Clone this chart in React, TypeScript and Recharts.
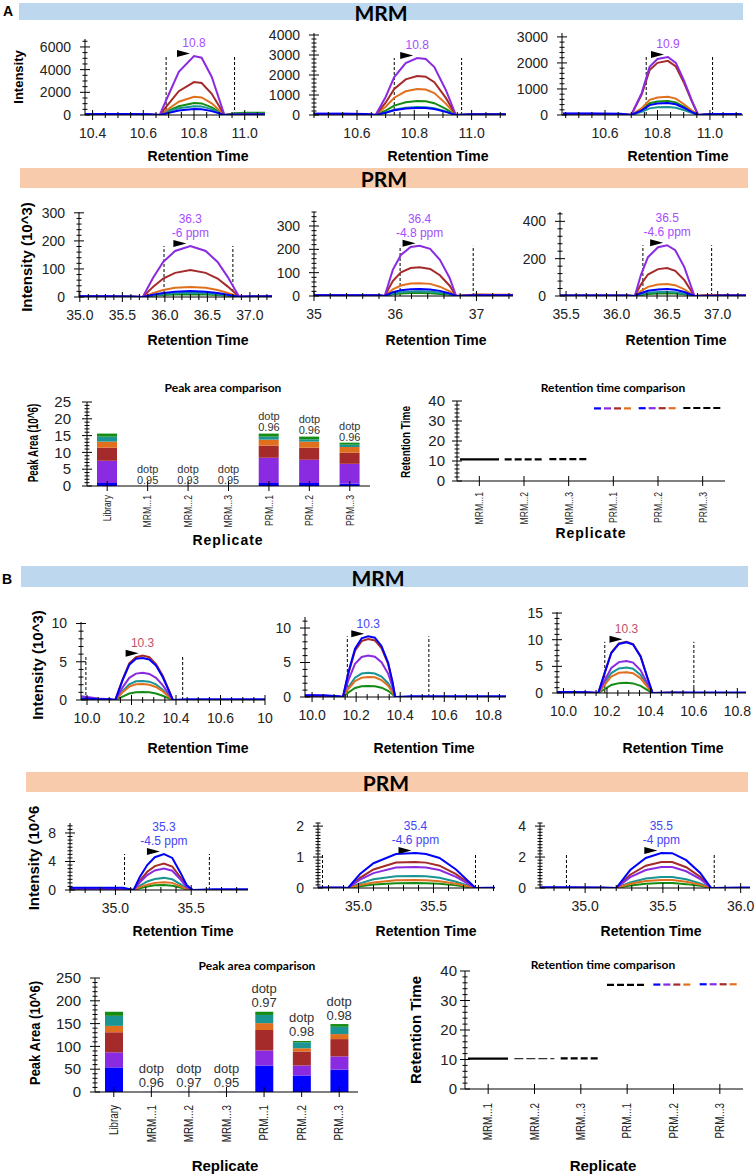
import React from "react";
import {
  LineChart,
  Line,
  XAxis,
  YAxis,
  ReferenceLine,
  ReferenceDot,
  ComposedChart,
  BarChart,
  Bar,
  Scatter,
} from "recharts";

const SANS = '"Liberation Sans", Arial, sans-serif';
const HEAD = 'Lato, "Open Sans", sans-serif';
const INK = "#222";

// transition colours: blue, purple, red, orange, teal, green (bottom of stack first)
const TRANS = ["#0000ff", "#8a2be2", "#a52a2a", "#e0701e", "#1b9494", "#148c14"];
const LBL_PURPLE = "#a64dff";
const LBL_BLUE = "#4545f5";
const LBL_RED = "#c0506a";

// ---------- panel A, MRM chromatograms (intensity) ----------
const A_MRM1_RT = [10.37, 10.45, 10.55, 10.62, 10.665, 10.69, 10.74, 10.8, 10.83, 10.87, 10.92, 10.96, 11.0, 11.08];
const A_MRM1_I = [
  [80, 80, 80, 70, 0, 140, 390, 530, 515, 340, 0, 40, 60, 60],
  [60, 60, 50, 40, 0, 1300, 3800, 5200, 5050, 3350, 0, 0, 0, 0],
  [30, 30, 30, 20, 0, 720, 2100, 2900, 2820, 1870, 0, 20, 30, 30],
  [30, 30, 30, 20, 0, 400, 1170, 1600, 1550, 1030, 0, 50, 80, 80],
  [30, 30, 30, 20, 0, 250, 600, 780, 760, 500, 0, 100, 120, 120],
  [20, 20, 20, 20, 0, 290, 770, 1050, 1020, 680, 0, 150, 200, 200],
];
const A_MRM2_RT = [10.45, 10.55, 10.63, 10.665, 10.7, 10.73, 10.77, 10.81, 10.84, 10.87, 10.91, 10.945, 11.0, 11.12];
const A_MRM2_I = [
  [60, 60, 50, 0, 110, 235, 320, 350, 345, 295, 155, 0, 40, 40],
  [60, 60, 50, 0, 900, 1900, 2600, 2850, 2800, 2400, 1250, 0, 0, 0],
  [30, 30, 30, 0, 615, 1300, 1780, 1950, 1915, 1640, 855, 0, 20, 20],
  [30, 30, 30, 0, 410, 865, 1185, 1300, 1275, 1095, 570, 0, 30, 30],
  [20, 20, 20, 0, 125, 265, 365, 400, 390, 335, 175, 0, 20, 20],
  [20, 20, 20, 0, 220, 470, 640, 700, 690, 590, 310, 0, 30, 30],
];
const A_MRM3_RT = [10.44, 10.55, 10.66, 10.7, 10.74, 10.77, 10.8, 10.84, 10.87, 10.9, 10.93, 10.955, 11.0, 11.12];
const A_MRM3_I = [
  [60, 60, 50, 0, 175, 380, 445, 460, 410, 280, 120, 0, 40, 40],
  [50, 50, 40, 0, 850, 1850, 2150, 2230, 2000, 1350, 580, 0, 0, 0],
  [30, 30, 30, 0, 790, 1725, 2005, 2080, 1865, 1260, 540, 0, 30, 30],
  [30, 30, 30, 0, 265, 580, 675, 700, 630, 425, 180, 0, 30, 30],
  [20, 20, 20, 0, 120, 255, 300, 310, 280, 190, 80, 0, 20, 20],
  [20, 20, 20, 0, 205, 450, 520, 540, 485, 325, 140, 0, 20, 20],
];

// ---------- panel A, PRM chromatograms (intensity x10^3) ----------
const A_PRM1_RT = [34.99, 35.3, 35.6, 35.74, 35.86, 35.98, 36.12, 36.3, 36.48, 36.62, 36.74, 36.87, 37.0, 37.26];
const A_PRM1_I = [
  [3, 3, 2, 0, 8, 14, 19, 21, 19, 14, 8, 1, 2, 3],
  [3, 2, 1, 0, 68, 125, 164, 182, 164, 125, 71, 3, 2, 3],
  [2, 1, 1, 0, 36, 66, 86, 96, 86, 66, 37, 2, 1, 2],
  [1, 1, 1, 0, 14, 25, 33, 36, 33, 25, 14, 1, 1, 1],
  [1, 1, 1, 0, 6, 10, 13, 15, 13, 10, 6, 1, 1, 1],
  [1, 1, 1, 0, 4, 7, 9, 10, 9, 7, 4, 1, 1, 1],
];
const A_PRM2_RT = [35, 35.4, 35.8, 35.87, 35.97, 36.07, 36.19, 36.3, 36.43, 36.55, 36.67, 36.75, 37.0, 37.45];
const A_PRM2_I = [
  [3, 3, 3, 0, 16, 25, 29, 30, 28, 22, 11, 0, 3, 3],
  [3, 2, 2, 0, 112, 176, 210, 215, 202, 155, 77, 0, 2, 3],
  [2, 1, 1, 0, 64, 101, 120, 123, 116, 89, 44, 0, 5, 3],
  [1, 1, 1, 0, 29, 45, 54, 55, 52, 40, 20, 0, 6, 5],
  [1, 1, 1, 0, 10, 16, 19, 20, 19, 14, 7, 0, 1, 1],
  [1, 1, 1, 0, 7, 11, 13, 13, 12, 9, 5, 0, 3, 2],
];
const A_PRM3_RT = [35.44, 35.8, 36.1, 36.18, 36.24, 36.31, 36.41, 36.5, 36.58, 36.67, 36.77, 36.9, 37.1, 37.28];
const A_PRM3_I = [
  [3, 3, 3, 0, 15, 28, 35, 37, 33, 21, 0, 2, 3, 3],
  [3, 3, 2, 0, 112, 208, 261, 272, 245, 155, 0, 0, 2, 3],
  [2, 2, 1, 0, 62, 115, 144, 150, 135, 85, 0, 3, 3, 2],
  [1, 1, 1, 0, 26, 49, 61, 64, 58, 36, 0, 5, 4, 3],
  [1, 1, 1, 0, 9, 17, 21, 22, 20, 12, 0, 1, 1, 1],
  [1, 1, 1, 0, 6, 11, 14, 15, 13, 9, 0, 2, 2, 2],
];

// ---------- panel B, MRM chromatograms (intensity x10^3) ----------
const B_MRM1_RT = [9.973, 10.0, 10.05, 10.1, 10.127, 10.16, 10.19, 10.22, 10.25, 10.28, 10.31, 10.34, 10.365, 10.386, 10.45, 10.6, 10.8];
const B_MRM1_I = [
  [0.2, 0.2, 0.1, 0.1, 0, 2.6, 4.6, 5.4, 5.5, 5.3, 4.5, 3.0, 1.4, 0, 0.1, 0.1, 0.1],
  [0.5, 0.4, 0.2, 0.1, 0, 1.65, 2.9, 3.45, 3.55, 3.4, 2.9, 1.95, 0.9, 0, 0, 0, 0],
  [0.1, 0.1, 0.1, 0.1, 0, 2.7, 4.8, 5.6, 5.8, 5.6, 4.7, 3.2, 1.5, 0, 0, 0, 0],
  [0.1, 0.1, 0.1, 0, 0, 1.0, 1.75, 2.05, 2.1, 2.0, 1.7, 1.15, 0.5, 0, 0, 0, 0],
  [0.1, 0.1, 0.1, 0, 0, 1.15, 2.05, 2.45, 2.5, 2.4, 2.05, 1.35, 0.6, 0, 0, 0, 0],
  [0, 0, 0, 0, 0, 0.45, 0.85, 1.0, 1.05, 1.0, 0.85, 0.55, 0.25, 0, 0, 0, 0],
];
const B_MRM2_RT = [9.968, 10.0, 10.06, 10.12, 10.14, 10.165, 10.195, 10.225, 10.255, 10.285, 10.315, 10.345, 10.365, 10.377, 10.45, 10.6, 10.88];
const B_MRM2_I = [
  [0.2, 0.2, 0.2, 0.1, 0, 3.6, 7.0, 8.5, 8.8, 8.6, 7.4, 5.0, 2.2, 0, 0.1, 0.1, 0.1],
  [0.3, 0.3, 0.2, 0.1, 0, 2.45, 4.8, 5.8, 6.0, 5.85, 5.05, 3.4, 1.5, 0, 0, 0, 0],
  [0.1, 0.1, 0.1, 0, 0, 3.4, 6.7, 8.1, 8.4, 8.2, 7.1, 4.8, 2.1, 0, 0, 0, 0],
  [0, 0, 0, 0, 0, 1.2, 2.3, 2.8, 2.9, 2.85, 2.45, 1.65, 0.7, 0, 0, 0, 0],
  [0.1, 0.1, 0.1, 0, 0, 1.45, 2.8, 3.4, 3.5, 3.4, 2.95, 2.0, 0.9, 0, 0, 0, 0],
  [0, 0, 0, 0, 0, 0.65, 1.3, 1.55, 1.6, 1.55, 1.35, 0.9, 0.4, 0, 0, 0, 0],
];
const B_MRM3_RT = [9.97, 10.05, 10.12, 10.16, 10.19, 10.22, 10.255, 10.29, 10.32, 10.355, 10.385, 10.41, 10.5, 10.6, 10.7, 10.84];
const B_MRM3_I = [
  [0.2, 0.2, 0.1, 0, 3.8, 7.5, 9.2, 9.5, 9.1, 6.8, 3.0, 0, 0.1, 0.1, 0.1, 0.1],
  [0.2, 0.2, 0.1, 0, 2.4, 4.7, 5.8, 6.0, 5.7, 4.25, 1.9, 0, 0, 0, 0, 0],
  [0.1, 0.1, 0.1, 0, 3.9, 7.6, 9.3, 9.6, 9.2, 6.9, 3.0, 0, 0.1, 0, 0, 0],
  [0, 0, 0, 0, 1.55, 3.1, 3.8, 3.9, 3.7, 2.75, 1.2, 0, 0, 0, 0, 0],
  [0, 0, 0, 0, 1.9, 3.75, 4.6, 4.8, 4.55, 3.4, 1.5, 0, 0, 0, 0, 0],
  [0, 0, 0, 0, 0.75, 1.5, 1.85, 1.9, 1.8, 1.35, 0.6, 0, 0, 0, 0, 0],
];

// ---------- panel B, PRM chromatograms (intensity x10^6) ----------
const B_PRM1_RT = [34.7, 34.9, 35.05, 35.12, 35.16, 35.21, 35.26, 35.32, 35.375, 35.43, 35.47, 35.51, 35.65, 35.875];
const B_PRM1_I = [
  [0.3, 0.3, 0.3, 0, 1.8, 3.5, 4.6, 5.05, 4.5, 2.4, 0.7, 0, 0.1, 0.1],
  [0.1, 0.1, 0.1, 0, 1.05, 2.1, 2.75, 3.0, 2.7, 1.45, 0.4, 0, 0, 0],
  [0.2, 0.2, 0.1, 0, 1.3, 2.55, 3.35, 3.7, 3.3, 1.75, 0.5, 0, 0, 0],
  [0, 0, 0, 0, 0.4, 0.75, 1.0, 1.1, 1.0, 0.5, 0.15, 0, 0, 0],
  [0, 0, 0, 0, 0.6, 1.2, 1.55, 1.7, 1.5, 0.8, 0.25, 0, 0, 0],
  [0, 0, 0, 0, 0.25, 0.5, 0.65, 0.7, 0.6, 0.35, 0.1, 0, 0, 0],
];
const B_PRM2_RT = [34.73, 34.8, 34.88, 34.93, 35.01, 35.1, 35.25, 35.38, 35.45, 35.54, 35.65, 35.78, 35.85, 35.91];
const B_PRM2_I = [
  [0.02, 0.02, 0.02, 0, 0.45, 0.8, 1.1, 1.13, 1.1, 0.97, 0.6, 0, 0.01, 0.01],
  [0, 0, 0, 0, 0.27, 0.48, 0.66, 0.68, 0.66, 0.58, 0.36, 0, 0, 0],
  [0.01, 0.01, 0.01, 0, 0.33, 0.6, 0.82, 0.84, 0.82, 0.72, 0.45, 0, 0, 0],
  [0, 0, 0, 0, 0.1, 0.18, 0.25, 0.26, 0.25, 0.22, 0.14, 0, 0, 0],
  [0, 0, 0, 0, 0.15, 0.28, 0.38, 0.39, 0.38, 0.33, 0.2, 0, 0, 0],
  [0, 0, 0, 0, 0.06, 0.11, 0.155, 0.16, 0.155, 0.14, 0.085, 0, 0, 0],
];
const B_PRM3_RT = [34.71, 34.9, 35.1, 35.2, 35.29, 35.39, 35.49, 35.56, 35.65, 35.74, 35.81, 35.9, 36.0, 36.06];
const B_PRM3_I = [
  [0.05, 0.05, 0.04, 0, 1.16, 1.94, 2.26, 2.25, 1.8, 0.97, 0, 0.02, 0.03, 0.03],
  [0, 0, 0, 0, 0.7, 1.16, 1.35, 1.35, 1.08, 0.58, 0, 0, 0, 0],
  [0.02, 0.02, 0.02, 0, 0.86, 1.44, 1.68, 1.68, 1.34, 0.72, 0, 0, 0, 0],
  [0, 0, 0, 0, 0.27, 0.45, 0.52, 0.52, 0.41, 0.22, 0, 0, 0, 0],
  [0, 0, 0, 0, 0.36, 0.61, 0.71, 0.71, 0.57, 0.3, 0, 0, 0, 0],
  [0, 0, 0, 0, 0.16, 0.27, 0.32, 0.32, 0.25, 0.14, 0, 0, 0, 0],
];

// integration boundaries (retention time)
const A_BOUNDS = [[10.69, 10.96], [10.73, 10.965], [10.757, 11.01], [35.99, 36.8], [36.06, 36.96], [36.26, 36.94]];
const B_BOUNDS = [[9.995, 10.43], [10.16, 10.53], [10.19, 10.6], [35.06, 35.62], [34.76, 35.78], [34.88, 35.83]];

// peak annotations
const A_PEAK_TEXT = [["10.8"], ["10.8"], ["10.9"], ["36.3", "-6 ppm"], ["36.4", "-4.8 ppm"], ["36.5", "-4.6 ppm"]];
const B_PEAK_TEXT = [["10.3"], ["10.3"], ["10.3"], ["35.3", "-4.5 ppm"], ["35.4", "-4.6 ppm"], ["35.5", "-4 ppm"]];

// ---------- peak area / retention time comparisons ----------
const REPLICATES = ["Library", "MRM...1", "MRM...2", "MRM...3", "PRM...1", "PRM...2", "PRM...3"];
const RT_REPLICATES = ["MRM...1", "MRM...2", "MRM...3", "PRM...1", "PRM...2", "PRM...3"];

const A_AREA = [
  [0.9, 0.02, 0.02, 0.02, 0.9, 0.9, 0.7],
  [6.6, 0, 0, 0, 7.5, 6.9, 5.9],
  [3.9, 0, 0, 0, 3.6, 3.6, 3.3],
  [1.8, 0, 0, 0, 1.8, 1.8, 1.7],
  [1.5, 0, 0, 0, 0.9, 0.7, 0.7],
  [0.9, 0, 0, 0, 0.9, 0.8, 0.6],
];
const A_DOTP = ["", "0.95", "0.93", "0.95", "0.96", "0.96", "0.96"];
const A_RT = [10.8, 10.8, 10.9, 36.3, 36.4, 36.5];
const A_RT_KIND = ["solid", "dash", "dash", "color", "color", "dash"];

const B_AREA = [
  [54, 0.3, 0.3, 0.3, 58, 36, 49],
  [33, 0, 0, 0, 33, 22, 29],
  [44, 0, 0, 0, 45, 31, 38],
  [14, 0, 0, 0, 15, 7, 11],
  [22, 0, 0, 0, 18, 13, 16],
  [9, 0, 0, 0, 7, 3, 6],
];
const B_DOTP = ["", "0.96", "0.97", "0.95", "0.97", "0.98", "0.98"];
const B_RT = [10.3, 10.3, 10.4, 35.3, 35.4, 35.5];
const B_RT_KIND = ["solid", "thin", "dash", "dash", "color", "color"];

// ---------- helpers ----------
const YW = 50;
const MT = 14;
const MR = 10;
const XH = 30;
const CH = 60;

function tickRange(lo: number, hi: number, step: number, majors: number[]) {
  const out: number[] = [];
  for (let i = Math.ceil(lo / step - 1e-9); i * step <= hi + 1e-9; i++) out.push(+(i * step).toFixed(6));
  majors.forEach((m) => {
    if (!out.some((v) => Math.abs(v - m) < 1e-6)) out.push(m);
  });
  return out.sort((a, b) => a - b);
}
const majorIndex = (v: number, majors: number[]) => majors.findIndex((m) => Math.abs(m - v) < 1e-6);

function YTick(props: any) {
  const { x, y, payload, majors, gap = 14, fs = 14 } = props;
  const k = majorIndex(payload.value, majors);
  const len = k >= 0 ? 5 : 2.5;
  return (
    <g>
      <line x1={x - len} x2={x + len} y1={y} y2={y} stroke="#000" strokeWidth={1} />
      {k >= 0 && (
        <text x={x - gap} y={y} dy="0.35em" textAnchor="end" fontSize={fs} fill={INK} fontFamily={SANS}>
          {majors[k]}
        </text>
      )}
    </g>
  );
}

function XTick(props: any) {
  const { x, y, payload, majors, labels, fs = 14 } = props;
  const k = majorIndex(payload.value, majors);
  const len = k >= 0 ? 5 : 3;
  return (
    <g>
      <line x1={x} x2={x} y1={y - len} y2={y + len} stroke="#000" strokeWidth={1} />
      {k >= 0 && (
        <text x={x} y={y + 18} dy="0.35em" textAnchor="middle" fontSize={fs} fill={INK} fontFamily={SANS}>
          {labels[k]}
        </text>
      )}
    </g>
  );
}

function CatTick(props: any) {
  const { x, y, payload, drop, fs, sq } = props;
  return (
    <g>
      <line x1={x} x2={x} y1={y - 5} y2={y + 5} stroke="#000" strokeWidth={1} />
      <g transform={`translate(${x},${y + drop}) rotate(-90) scale(${sq},1)`}>
        <text x={0} y={0} dy="0.35em" textAnchor="end" fontSize={fs} fill={INK} fontFamily={SANS}>
          {payload.value}
        </text>
      </g>
    </g>
  );
}

function PeakMark({ cx, cy, lines, color }: any) {
  if (cx == null || cy == null) return null;
  const n = lines.length;
  return (
    <g>
      <polygon points={`${cx - 17},${cy - 6} ${cx - 4},${cy - 2.5} ${cx - 17},${cy + 1}`} fill="#000" />
      {lines.map((l: string, i: number) => (
        <text
          key={i}
          x={cx}
          y={cy - 13 - (n - 1 - i) * 14}
          dy="0.35em"
          textAnchor="middle"
          fontSize={12}
          fill={color}
          fontFamily={SANS}
        >
          {l}
        </text>
      ))}
    </g>
  );
}

type ChromProps = {
  box: [number, number, number, number];
  rt: number[];
  ints: number[][];
  xDomain: [number, number];
  xMajor: number[];
  xLabels: string[];
  xMinor: number;
  yDomain: [number, number];
  yMajor: number[];
  yMinor: number;
  bounds: number[];
  peakText: string[];
  peakColor: string;
};

function Chrom(p: ChromProps) {
  const [x0, y0, x1, y1] = p.box;
  const data = p.rt.map((t, i) => {
    const row: any = { t };
    p.ints.forEach((s, k) => (row["s" + k] = s[i]));
    return row;
  });
  // apex of the tallest trace
  let apex = { t: p.rt[0], v: -Infinity };
  p.ints.forEach((s) =>
    s.forEach((v, i) => {
      if (v > apex.v) apex = { t: p.rt[i], v };
    })
  );
  const xTicks = tickRange(p.xDomain[0], p.xDomain[1], p.xMinor, p.xMajor);
  const yTicks = tickRange(p.yDomain[0], p.yDomain[1], p.yMinor, p.yMajor);
  return (
    <div style={{ position: "absolute", left: x0 - YW, top: y0 - MT }}>
      <LineChart
        width={x1 - x0 + YW + MR}
        height={y1 - y0 + MT + XH}
        data={data}
        margin={{ top: MT, right: MR, left: 0, bottom: 0 }}
      >
        <XAxis
          dataKey="t"
          type="number"
          domain={p.xDomain}
          ticks={xTicks}
          interval={0}
          allowDataOverflow
          tickSize={0}
          tickMargin={0}
          tickLine={false}
          axisLine={{ stroke: "#000" }}
          height={XH}
          tick={(tp: any) => <XTick {...tp} majors={p.xMajor} labels={p.xLabels} />}
        />
        <YAxis
          type="number"
          domain={p.yDomain}
          ticks={yTicks}
          interval={0}
          allowDataOverflow
          width={YW}
          tickSize={0}
          tickMargin={0}
          tickLine={false}
          axisLine={{ stroke: "#000" }}
          tick={(tp: any) => <YTick {...tp} majors={p.yMajor} />}
        />
        {p.bounds.map((b, i) => (
          <ReferenceLine
            key={i}
            segment={[
              { x: b, y: 0 },
              { x: b, y: apex.v },
            ]}
            stroke="#000"
            strokeDasharray="3 2"
            ifOverflow="visible"
          />
        ))}
        {[5, 4, 3, 2, 1, 0].map((k) => (
          <Line
            key={k}
            dataKey={"s" + k}
            type="linear"
            stroke={TRANS[k]}
            strokeWidth={2}
            dot={false}
            activeDot={false}
            isAnimationActive={false}
          />
        ))}
        <ReferenceDot
          x={apex.t}
          y={apex.v}
          r={0}
          ifOverflow="visible"
          shape={(sp: any) => <PeakMark cx={sp.cx} cy={sp.cy} lines={p.peakText} color={p.peakColor} />}
        />
      </LineChart>
    </div>
  );
}

// "dotp" note drawn at the top of each stacked bar
function DotpMark(props: any) {
  const { cx, cy, payload, fs, lift, lh } = props;
  if (cx == null || cy == null || !payload?.dotp) return null;
  return (
    <g>
      <text x={cx} y={cy - lift - lh} dy="0.35em" textAnchor="middle" fontSize={fs} fill="#333" fontFamily={SANS}>
        dotp
      </text>
      <text x={cx} y={cy - lift} dy="0.35em" textAnchor="middle" fontSize={fs} fill="#333" fontFamily={SANS}>
        {payload.dotp}
      </text>
    </g>
  );
}

function AreaBars(p: any) {
  const [x0, y0, x1, y1] = p.box;
  const data = REPLICATES.map((c, i) => {
    const row: any = { c, dotp: p.dotp[i], total: 0 };
    p.stacks.forEach((s: number[], k: number) => {
      row["s" + k] = s[i];
      row.total += s[i];
    });
    return row;
  });
  const yTicks = tickRange(p.yDomain[0], p.yDomain[1], p.yMinor, p.yMajor);
  return (
    <div style={{ position: "absolute", left: x0 - YW, top: y0 - MT }}>
      <ComposedChart
        width={x1 - x0 + YW + MR}
        height={y1 - y0 + MT + CH}
        data={data}
        margin={{ top: MT, right: MR, left: 0, bottom: 0 }}
      >
        <XAxis
          dataKey="c"
          interval={0}
          tickSize={0}
          tickMargin={0}
          tickLine={false}
          axisLine={{ stroke: "#000" }}
          height={CH}
          tick={(tp: any) => <CatTick {...tp} drop={p.drop} fs={p.catFs} sq={p.catSq} />}
        />
        <YAxis
          type="number"
          domain={p.yDomain}
          ticks={yTicks}
          interval={0}
          allowDataOverflow
          width={YW}
          tickSize={0}
          tickMargin={0}
          tickLine={false}
          axisLine={{ stroke: "#000" }}
          tick={(tp: any) => <YTick {...tp} majors={p.yMajor} gap={p.gap} fs={15} />}
        />
        {p.stacks.map((_: number[], k: number) => (
          <Bar key={k} dataKey={"s" + k} stackId="a" fill={TRANS[k]} barSize={p.barSize} isAnimationActive={false} />
        ))}
        <Scatter
          dataKey="total"
          isAnimationActive={false}
          shape={(sp: any) => <DotpMark {...sp} fs={p.labelFs} lift={p.lift} lh={p.lh} />}
        />
      </ComposedChart>
    </div>
  );
}

function RtSegment(props: any) {
  const { x, y, width, kind } = props;
  if (x == null || y == null) return null;
  const a = x + 3;
  const b = x + width - 3;
  if (kind === "solid") return <line x1={a} x2={b} y1={y} y2={y} stroke="#000" strokeWidth={2.4} />;
  if (kind === "thin")
    return <line x1={a} x2={b} y1={y} y2={y} stroke="#333" strokeWidth={1.2} strokeDasharray="9 3" />;
  if (kind === "dash")
    return <line x1={a} x2={b} y1={y} y2={y} stroke="#000" strokeWidth={2.2} strokeDasharray="7 3" />;
  return (
    <g>
      {TRANS.map((c, k) => (
        <line
          key={k}
          x1={a}
          x2={b}
          y1={y}
          y2={y}
          stroke={c}
          strokeWidth={2.2}
          strokeDasharray="7 53"
          strokeDashoffset={-10 * k}
        />
      ))}
    </g>
  );
}

function RtCompare(p: any) {
  const [x0, y0, x1, y1] = p.box;
  const data = RT_REPLICATES.map((c, i) => ({ c, rt: p.rt[i], kind: p.kinds[i] }));
  const yMajor = [0, 10, 20, 30, 40];
  return (
    <div style={{ position: "absolute", left: x0 - YW, top: y0 - MT }}>
      <BarChart
        width={x1 - x0 + YW + MR}
        height={y1 - y0 + MT + CH}
        data={data}
        margin={{ top: MT, right: MR, left: 0, bottom: 0 }}
        barCategoryGap={0}
        barGap={0}
      >
        <XAxis
          dataKey="c"
          interval={0}
          tickSize={0}
          tickMargin={0}
          tickLine={false}
          axisLine={{ stroke: "#000" }}
          height={CH}
          tick={(tp: any) => <CatTick {...tp} drop={p.drop} fs={p.catFs} sq={p.catSq} />}
        />
        <YAxis
          type="number"
          domain={[0, 40]}
          ticks={tickRange(0, 40, 2, yMajor)}
          interval={0}
          allowDataOverflow
          width={YW}
          tickSize={0}
          tickMargin={0}
          tickLine={false}
          axisLine={{ stroke: "#000" }}
          tick={(tp: any) => <YTick {...tp} majors={yMajor} gap={p.gap} fs={15} />}
        />
        <Bar
          dataKey="rt"
          isAnimationActive={false}
          shape={(bp: any) => <RtSegment {...bp} kind={bp.payload?.kind ?? p.kinds[bp.index]} />}
        />
      </BarChart>
    </div>
  );
}

function T({ x, y, size, bold, rot, sq = 1, color = "#000", font = SANS, ls = 0, children }: any) {
  return (
    <div
      style={{
        position: "absolute",
        left: x,
        top: y,
        transform: `translate(-50%, -50%)${rot ? " rotate(-90deg)" : ""}${sq !== 1 ? ` scaleX(${sq})` : ""}`,
        whiteSpace: "nowrap",
        fontSize: size,
        fontWeight: bold ? 700 : 400,
        fontFamily: font,
        color,
        lineHeight: 1,
        letterSpacing: ls,
      }}
    >
      {children}
    </div>
  );
}

function Band({ x, y, w, h, color }: any) {
  return <div style={{ position: "absolute", left: x, top: y, width: w, height: h, background: color }} />;
}

const MRM_BAND = "#bdd7ee";
const PRM_BAND = "#f8cbad";

export default function App() {
  return (
    <div
      style={{
        position: "absolute",
        left: 0,
        top: 0,
        width: 756,
        height: 1176,
        background: "#fff",
        overflow: "hidden",
        fontFamily: SANS,
      }}
    >
      {/* ================= panel A ================= */}
      <T x={8} y={11} size={14} bold>A</T>
      <Band x={19} y={3} w={724} h={17} color={MRM_BAND} />
      <T x={381} y={12} size={21} bold font={HEAD}>MRM</T>

      <T x={18} y={77} size={13} bold rot>Intensity</T>
      <Chrom box={[85, 39, 265, 115]} rt={A_MRM1_RT} ints={A_MRM1_I} xDomain={[10.37, 11.08]}
        xMajor={[10.4, 10.6, 10.8, 11.0]} xLabels={["10.4", "10.6", "10.8", "11.0"]} xMinor={0.05}
        yDomain={[0, 6700]} yMajor={[0, 2000, 4000, 6000]} yMinor={500}
        bounds={A_BOUNDS[0]} peakText={A_PEAK_TEXT[0]} peakColor={LBL_PURPLE} />
      <Chrom box={[314, 33, 506, 115]} rt={A_MRM2_RT} ints={A_MRM2_I} xDomain={[10.45, 11.12]}
        xMajor={[10.6, 10.8, 11.0]} xLabels={["10.6", "10.8", "11.0"]} xMinor={0.05}
        yDomain={[0, 4100]} yMajor={[0, 1000, 2000, 3000, 4000]} yMinor={200}
        bounds={A_BOUNDS[1]} peakText={A_PEAK_TEXT[1]} peakColor={LBL_PURPLE} />
      <Chrom box={[562, 33, 743, 115]} rt={A_MRM3_RT} ints={A_MRM3_I} xDomain={[10.436, 11.126]}
        xMajor={[10.6, 10.8, 11.0]} xLabels={["10.6", "10.8", "11.0"]} xMinor={0.05}
        yDomain={[0, 3150]} yMajor={[0, 1000, 2000, 3000]} yMinor={200}
        bounds={A_BOUNDS[2]} peakText={A_PEAK_TEXT[2]} peakColor={LBL_PURPLE} />
      <T x={198} y={156} size={14} bold>Retention Time</T>
      <T x={438} y={156} size={14} bold>Retention Time</T>
      <T x={678} y={156} size={14} bold>Retention Time</T>

      <Band x={20} y={168} w={728} h={20} color={PRM_BAND} />
      <T x={384} y={178} size={21} bold font={HEAD}>PRM</T>

      <T x={26} y={257} size={15} bold rot>Intensity (10^3)</T>
      <Chrom box={[79, 212, 272, 297]} rt={A_PRM1_RT} ints={A_PRM1_I} xDomain={[34.99, 37.26]}
        xMajor={[35, 35.5, 36, 36.5, 37]} xLabels={["35.0", "35.5", "36.0", "36.5", "37.0"]} xMinor={0.1}
        yDomain={[0, 303]} yMajor={[0, 100, 200, 300]} yMinor={20}
        bounds={A_BOUNDS[3]} peakText={A_PEAK_TEXT[3]} peakColor={LBL_PURPLE} />
      <Chrom box={[314, 212, 513, 296]} rt={A_PRM2_RT} ints={A_PRM2_I} xDomain={[35, 37.45]}
        xMajor={[35, 36, 37]} xLabels={["35", "36", "37"]} xMinor={0.2}
        yDomain={[0, 360]} yMajor={[0, 100, 200, 300]} yMinor={20}
        bounds={A_BOUNDS[4]} peakText={A_PEAK_TEXT[4]} peakColor={LBL_PURPLE} />
      <Chrom box={[560, 212, 746, 296]} rt={A_PRM3_RT} ints={A_PRM3_I} xDomain={[35.44, 37.28]}
        xMajor={[35.5, 36, 36.5, 37]} xLabels={["35.5", "36.0", "36.5", "37.0"]} xMinor={0.1}
        yDomain={[0, 450]} yMajor={[0, 200, 400]} yMinor={40}
        bounds={A_BOUNDS[5]} peakText={A_PEAK_TEXT[5]} peakColor={LBL_PURPLE} />
      <T x={198} y={340} size={14} bold>Retention Time</T>
      <T x={436} y={340} size={14} bold>Retention Time</T>
      <T x={676} y={340} size={14} bold>Retention Time</T>

      <T x={223} y={388} size={12} bold font={HEAD}>Peak area comparison</T>
      <T x={33} y={443} size={14} bold rot sq={0.7}>Peak Area (10^6)</T>
      <AreaBars box={[87, 402, 370, 486]} stacks={A_AREA} dotp={A_DOTP} yDomain={[0, 25]}
        yMajor={[0, 5, 10, 15, 20, 25]} yMinor={1} barSize={20} gap={16}
        drop={9} catFs={11} catSq={0.78} labelFs={11} lift={6} lh={11} />
      <T x={228} y={540} size={14} bold ls={1}>Replicate</T>

      <T x={613} y={388} size={12} bold font={HEAD}>Retention time comparison</T>
      <T x={406} y={442} size={13.5} bold rot sq={0.74}>Retention Time</T>
      <RtCompare box={[457, 401, 725, 481]} rt={A_RT} kinds={A_RT_KIND} gap={12}
        drop={11} catFs={11} catSq={0.78} />
      <T x={591} y={533} size={14} bold ls={1}>Replicate</T>

      {/* ================= panel B ================= */}
      <T x={7} y={579} size={14} bold>B</T>
      <Band x={21} y={566} w={727} h={21} color={MRM_BAND} />
      <T x={378} y={577} size={21} bold font={HEAD}>MRM</T>

      <T x={37} y={665} size={15} bold rot>Intensity (10^3)</T>
      <Chrom box={[81, 622, 265, 700]} rt={B_MRM1_RT} ints={B_MRM1_I} xDomain={[9.973, 10.8]}
        xMajor={[10, 10.2, 10.4, 10.6, 10.8]} xLabels={["10.0", "10.2", "10.4", "10.6", "10"]} xMinor={0.05}
        yDomain={[0, 10.2]} yMajor={[0, 5, 10]} yMinor={1}
        bounds={B_BOUNDS[0]} peakText={B_PEAK_TEXT[0]} peakColor={LBL_RED} />
      <Chrom box={[305, 617, 506, 697]} rt={B_MRM2_RT} ints={B_MRM2_I} xDomain={[9.968, 10.88]}
        xMajor={[10, 10.2, 10.4, 10.6, 10.8]} xLabels={["10.0", "10.2", "10.4", "10.6", "10.8"]} xMinor={0.05}
        yDomain={[0, 11.6]} yMajor={[0, 5, 10]} yMinor={1}
        bounds={B_BOUNDS[1]} peakText={B_PEAK_TEXT[1]} peakColor={LBL_BLUE} />
      <Chrom box={[557, 612, 746, 693]} rt={B_MRM3_RT} ints={B_MRM3_I} xDomain={[9.97, 10.84]}
        xMajor={[10, 10.2, 10.4, 10.6, 10.8]} xLabels={["10.0", "10.2", "10.4", "10.6", "10.8"]} xMinor={0.05}
        yDomain={[0, 15.2]} yMajor={[0, 5, 10, 15]} yMinor={1}
        bounds={B_BOUNDS[2]} peakText={B_PEAK_TEXT[2]} peakColor={LBL_RED} />
      <T x={198} y={748} size={14} bold>Retention Time</T>
      <T x={424} y={748} size={14} bold>Retention Time</T>
      <T x={673} y={748} size={14} bold>Retention Time</T>

      <Band x={26} y={772} w={722} h={20} color={PRM_BAND} />
      <T x={386} y={782} size={21} bold font={HEAD}>PRM</T>

      <T x={33} y={858} size={15} bold rot>Intensity (10^6</T>
      <Chrom box={[70, 823, 248, 890]} rt={B_PRM1_RT} ints={B_PRM1_I} xDomain={[34.7, 35.875]}
        xMajor={[35, 35.5]} xLabels={["35.0", "35.5"]} xMinor={0.1}
        yDomain={[0, 9.4]} yMajor={[0, 4, 8]} yMinor={0.5}
        bounds={B_BOUNDS[3]} peakText={B_PEAK_TEXT[3]} peakColor={LBL_BLUE} />
      <Chrom box={[318, 823, 495, 888]} rt={B_PRM2_RT} ints={B_PRM2_I} xDomain={[34.73, 35.91]}
        xMajor={[35, 35.5]} xLabels={["35.0", "35.5"]} xMinor={0.1}
        yDomain={[0, 2.1]} yMajor={[0, 1, 2]} yMinor={0.1}
        bounds={B_BOUNDS[4]} peakText={B_PEAK_TEXT[4]} peakColor={LBL_BLUE} />
      <Chrom box={[540, 823, 750, 888]} rt={B_PRM3_RT} ints={B_PRM3_I} xDomain={[34.71, 36.06]}
        xMajor={[35, 35.5, 36]} xLabels={["35.0", "35.5", "36.0"]} xMinor={0.1}
        yDomain={[0, 4.2]} yMajor={[0, 2, 4]} yMinor={0.2}
        bounds={B_BOUNDS[5]} peakText={B_PEAK_TEXT[5]} peakColor={LBL_BLUE} />
      <T x={183} y={931} size={14} bold>Retention Time</T>
      <T x={426} y={931} size={14} bold>Retention Time</T>
      <T x={651} y={931} size={14} bold>Retention Time</T>

      <T x={257} y={966} size={12} bold font={HEAD}>Peak area comparison</T>
      <T x={35} y={1033} size={14} bold rot sq={0.93}>Peak Area (10^6)</T>
      <AreaBars box={[95, 978, 358, 1092]} stacks={B_AREA} dotp={B_DOTP} yDomain={[0, 250]}
        yMajor={[0, 50, 100, 150, 200, 250]} yMinor={10} barSize={18} gap={14}
        drop={13} catFs={12} catSq={0.82} labelFs={13} lift={9} lh={14} />
      <T x={225} y={1165} size={15} bold>Replicate</T>

      <T x={603} y={965} size={12} bold font={HEAD}>Retention time comparison</T>
      <T x={415} y={1030} size={15} bold rot>Retention Time</T>
      <RtCompare box={[465, 971, 743, 1089]} rt={B_RT} kinds={B_RT_KIND} gap={8}
        drop={14} catFs={12} catSq={0.82} />
      <T x={603} y={1165} size={15} bold>Replicate</T>
    </div>
  );
}
